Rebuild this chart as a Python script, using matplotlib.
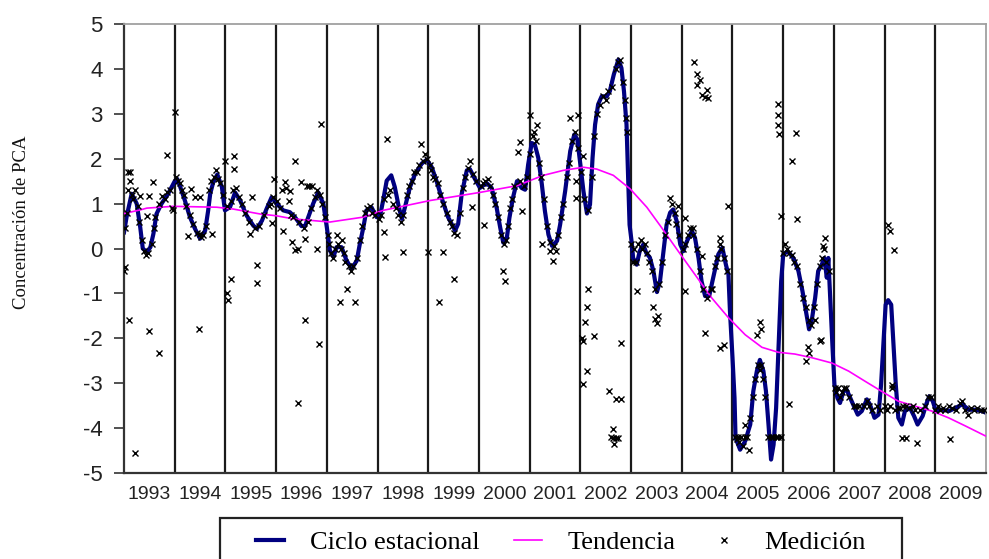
import numpy as np
import matplotlib
matplotlib.use('Agg')
from matplotlib import pyplot as plt
from matplotlib.lines import Line2D
from matplotlib.patches import Rectangle

# Ciclo estacional (años decimales, valor)
ciclo_anio = [1993.00, 1993.05, 1993.15, 1993.25, 1993.32, 1993.37, 1993.45, 1993.52, 1993.58, 1993.64,
              1993.74, 1993.87, 1994.00, 1994.05, 1994.10, 1994.20, 1994.30, 1994.40, 1994.50, 1994.60,
              1994.66, 1994.70, 1994.76, 1994.84, 1994.93, 1994.99, 1995.09, 1995.19, 1995.29, 1995.42,
              1995.55, 1995.62, 1995.72, 1995.81, 1995.91, 1996.01, 1996.14, 1996.27, 1996.37, 1996.50,
              1996.57, 1996.73, 1996.83, 1996.93, 1997.00, 1997.06, 1997.13, 1997.19, 1997.29, 1997.39,
              1997.49, 1997.59, 1997.65, 1997.72, 1997.78, 1997.88, 1997.98, 1998.05, 1998.11, 1998.18,
              1998.27, 1998.34, 1998.42, 1998.48, 1998.54, 1998.64, 1998.74, 1998.87, 1998.97, 1999.07,
              1999.17, 1999.26, 1999.39, 1999.53, 1999.59, 1999.66, 1999.76, 1999.82, 1999.92, 2000.02,
              2000.15, 2000.25, 2000.35, 2000.42, 2000.48, 2000.55, 2000.60, 2000.67, 2000.75, 2000.84,
              2000.91, 2000.97, 2001.04, 2001.10, 2001.17, 2001.24, 2001.30, 2001.37, 2001.44, 2001.54,
              2001.60, 2001.70, 2001.80, 2001.88, 2001.94, 2002.00, 2002.06, 2002.13, 2002.19, 2002.24,
              2002.29, 2002.35, 2002.42, 2002.52, 2002.58, 2002.66, 2002.75, 2002.81, 2002.86, 2002.91,
              2002.94, 2002.97, 2003.01, 2003.04, 2003.11, 2003.17, 2003.24, 2003.30, 2003.37, 2003.44,
              2003.51, 2003.57, 2003.64, 2003.70, 2003.77, 2003.83, 2003.90, 2003.97, 2004.03, 2004.10,
              2004.20, 2004.26, 2004.33, 2004.39, 2004.46, 2004.54, 2004.62, 2004.72, 2004.80, 2004.87,
              2004.92, 2004.95, 2005.00, 2005.04, 2005.06, 2005.15, 2005.25, 2005.35, 2005.41, 2005.48,
              2005.54, 2005.61, 2005.66, 2005.71, 2005.76, 2005.81, 2005.86, 2005.90, 2005.93, 2005.96,
              2006.00, 2006.09, 2006.20, 2006.30, 2006.38, 2006.46, 2006.51, 2006.56, 2006.63, 2006.69,
              2006.76, 2006.81, 2006.86, 2006.89, 2006.92, 2006.97, 2007.01, 2007.07, 2007.12, 2007.19,
              2007.25, 2007.35, 2007.47, 2007.55, 2007.65, 2007.71, 2007.80, 2007.88, 2007.93, 2007.98,
              2008.02, 2008.07, 2008.13, 2008.17, 2008.22, 2008.27, 2008.34, 2008.40, 2008.50, 2008.58,
              2008.65, 2008.75, 2008.82, 2008.88, 2008.95, 2009.01, 2009.14, 2009.27, 2009.40, 2009.53,
              2009.66, 2009.79, 2009.92, 2010.00]
ciclo_valor = [0.36, 0.70, 1.22, 1.00, 0.47, 0.00, -0.08, 0.03, 0.33, 0.77,
               1.00, 1.22, 1.50, 1.55, 1.40, 1.07, 0.70, 0.44, 0.22, 0.40,
               0.85, 1.22, 1.48, 1.65, 1.37, 0.85, 0.92, 1.25, 1.07, 0.73,
               0.51, 0.44, 0.62, 0.88, 1.14, 1.00, 0.85, 0.81, 0.70, 0.50,
               0.50, 1.00, 1.25, 1.00, 0.47, -0.04, -0.19, 0.03, 0.03, -0.27,
               -0.45, -0.27, 0.10, 0.47, 0.85, 0.92, 0.70, 0.73, 1.07, 1.51,
               1.63, 1.37, 0.92, 0.66, 0.92, 1.37, 1.66, 1.89, 1.98, 1.81,
               1.48, 1.14, 0.70, 0.40, 0.55, 1.22, 1.74, 1.77, 1.55, 1.35,
               1.46, 1.35, 0.90, 0.46, 0.13, 0.24, 0.68, 1.13, 1.50, 1.35,
               1.31, 1.87, 2.35, 2.32, 2.02, 1.43, 0.84, 0.31, 0.06, 0.17,
               0.53, 1.28, 2.17, 2.54, 2.43, 1.87, 1.28, 0.78, 0.98, 2.02,
               2.76, 3.21, 3.39, 3.39, 3.50, 3.88, 4.21, 4.02, 3.50, 2.76,
               1.65, 0.53, 0.16, -0.21, -0.36, -0.06, 0.09, -0.10, -0.20, -0.50,
               -0.97, -0.73, -0.06, 0.53, 0.80, 0.87, 0.61, 0.09, -0.06, 0.16,
               0.39, 0.24, -0.21, -0.73, -1.06, -1.06, -0.65, -0.13, 0.02, -0.36,
               -0.58, -1.40, -2.43, -3.33, -4.22, -4.48, -4.29, -3.92, -3.18, -2.73,
               -2.48, -2.73, -3.18, -3.92, -4.70, -4.37, -3.55, -2.43, -1.54, -0.73,
               -0.13, -0.06, -0.21, -0.50, -0.95, -1.47, -1.80, -1.62, -1.10, -0.50,
               -0.36, -0.21, -0.65, -0.21, -0.95, -2.14, -3.03, -3.33, -3.44, -3.18,
               -3.14, -3.40, -3.70, -3.62, -3.36, -3.47, -3.77, -3.70, -3.03, -2.06,
               -1.25, -1.15, -1.25, -2.06, -3.03, -3.77, -3.92, -3.62, -3.55, -3.73,
               -3.92, -3.73, -3.47, -3.29, -3.40, -3.62, -3.59, -3.62, -3.55, -3.47,
               -3.59, -3.59, -3.62, -3.66]

# Tendencia
tend_anio = [1993.00, 1993.32, 1993.45, 1993.97, 1994.83, 1995.15, 1995.68, 1996.00, 1996.34, 1997.06,
             1997.72, 1998.11, 1999.04, 2000.02, 2000.75, 2001.27, 2001.66, 2002.06, 2002.32, 2002.65,
             2002.98, 2003.31, 2003.58, 2003.93, 2004.26, 2004.59, 2004.92, 2005.25, 2005.58, 2005.90,
             2006.23, 2006.56, 2006.96, 2007.29, 2007.62, 2007.94, 2008.27, 2008.60, 2008.93, 2009.26,
             2009.59, 2010.00]
tend_valor = [0.78, 0.86, 0.90, 0.94, 0.92, 0.88, 0.77, 0.73, 0.66, 0.59,
              0.70, 0.85, 1.07, 1.25, 1.40, 1.63, 1.74, 1.81, 1.77, 1.63,
              1.33, 0.92, 0.50, -0.06, -0.58, -1.10, -1.54, -1.92, -2.20, -2.31,
              -2.35, -2.43, -2.55, -2.73, -2.96, -3.18, -3.40, -3.51, -3.62, -3.77,
              -3.95, -4.18]

# Medición (puntos)
med_anio = [
    1993.02, 1993.05, 1993.08, 1993.12, 1993.15, 1993.18, 1993.22, 1993.28, 1993.30, 1993.35, 1993.40, 1993.44,
    1993.48, 1993.55, 1993.60, 1993.62, 1993.68, 1993.80, 1993.85, 1993.90, 1993.95, 1993.97,
    1993.00, 1993.02, 1993.07, 1993.12, 1993.09, 1993.22, 1993.49, 1993.69, 1993.84, 1993.58, 1993.32, 1993.50,
    1993.74, 1993.45,
    1994.02, 1994.06, 1994.10, 1994.14, 1994.18, 1994.22, 1994.30, 1994.36, 1994.44, 1994.52, 1994.56, 1994.62,
    1994.68, 1994.72, 1994.78, 1994.82, 1994.86, 1994.90, 1994.95,
    1994.00, 1994.27, 1994.50, 1994.73, 1994.40, 1994.50, 1994.33, 1994.48,
    1995.04, 1995.10, 1995.15, 1995.20, 1995.26, 1995.32, 1995.38, 1995.46, 1995.58, 1995.66, 1995.76, 1995.85,
    1995.90, 1995.94,
    1995.00, 1995.03, 1995.05, 1995.11, 1995.16, 1995.16, 1995.62, 1995.62, 1995.52, 1995.49, 1995.91, 1995.96,
    1996.02, 1996.08, 1996.12, 1996.20, 1996.25, 1996.30, 1996.34, 1996.45, 1996.55, 1996.62, 1996.68, 1996.76,
    1996.80, 1996.86, 1996.90, 1996.96,
    1996.14, 1996.18, 1996.27, 1996.31, 1996.37, 1996.38, 1996.43, 1996.57, 1996.85, 1996.88, 1996.50, 1996.44,
    1996.57, 1996.80, 1996.60, 1996.65, 1996.70,
    1997.02, 1997.05, 1997.08, 1997.12, 1997.16, 1997.22, 1997.28, 1997.33, 1997.36, 1997.44, 1997.48, 1997.52,
    1997.60, 1997.66, 1997.70, 1997.75, 1997.80, 1997.85, 1997.90, 1997.95,
    1997.40, 1997.25, 1997.55, 1997.20, 1997.30,
    1998.02, 1998.06, 1998.12, 1998.20, 1998.24, 1998.30, 1998.36, 1998.40, 1998.46, 1998.50, 1998.58, 1998.62,
    1998.68, 1998.72, 1998.78, 1998.82, 1998.90, 1998.94, 1998.98,
    1998.15, 1998.51, 1998.18, 1998.86, 1998.13,
    1999.03, 1999.06, 1999.10, 1999.14, 1999.20, 1999.24, 1999.30, 1999.36, 1999.42, 1999.46, 1999.50, 1999.56,
    1999.62, 1999.68, 1999.72, 1999.78, 1999.88, 1999.94,
    1999.30, 1999.00, 1999.22, 1999.50, 1999.82, 1999.86,
    2000.04, 2000.08, 2000.12, 2000.18, 2000.22, 2000.28, 2000.32, 2000.38, 2000.44, 2000.50, 2000.53, 2000.58,
    2000.62, 2000.66, 2000.70, 2000.80, 2000.88, 2000.94,
    2000.09, 2000.48, 2000.51, 2000.80, 2000.76, 2000.84,
    2001.00, 2001.06, 2001.08, 2001.12, 2001.18, 2001.22, 2001.28, 2001.34, 2001.40, 2001.48, 2001.56, 2001.62,
    2001.66, 2001.74, 2001.78, 2001.84, 2001.90, 2001.96,
    2001.01, 2001.15, 2001.24, 2001.40, 2001.52, 2001.46, 2001.80, 2001.96, 2001.91, 2001.92,
    2002.02, 2002.08, 2002.15, 2002.22, 2002.27, 2002.32, 2002.38, 2002.45, 2002.50, 2002.55, 2002.62, 2002.70,
    2002.74, 2002.78, 2002.84, 2002.88, 2002.90, 2002.92,
    2002.06, 2002.15, 2002.13, 2002.09, 2002.03, 2002.05, 2002.26, 2002.13, 2002.05, 2002.81, 2002.57, 2002.71,
    2002.81, 2002.65, 2002.60, 2002.65, 2002.70, 2002.75, 2002.66,
    2003.00, 2003.03, 2003.06, 2003.10, 2003.14, 2003.20, 2003.22, 2003.27, 2003.32, 2003.36, 2003.42, 2003.48,
    2003.55, 2003.60, 2003.66, 2003.72, 2003.80, 2003.86, 2003.88, 2003.94,
    2003.11, 2003.47, 2003.51, 2003.53, 2003.43, 2003.77, 2003.93,
    2004.02, 2004.06, 2004.12, 2004.16, 2004.22, 2004.30, 2004.36, 2004.42, 2004.50, 2004.58, 2004.65, 2004.70,
    2004.76, 2004.78, 2004.84, 2004.90,
    2004.07, 2004.07, 2004.23, 2004.39, 2004.25, 2004.30, 2004.36, 2004.30, 2004.39, 2004.49, 2004.52, 2004.45,
    2004.46, 2004.75, 2004.83, 2004.92, 2004.75, 2004.59,
    2005.05, 2005.08, 2005.10, 2005.13, 2005.17, 2005.20, 2005.24, 2005.28, 2005.32, 2005.35, 2005.40, 2005.45,
    2005.50, 2005.56, 2005.60, 2005.64, 2005.70, 2005.75, 2005.80, 2005.85, 2005.90, 2005.95,
    2005.54, 2005.48, 2005.56, 2005.54, 2005.25, 2005.89, 2005.89, 2005.90, 2005.91, 2005.96,
    2006.00, 2006.04, 2006.08, 2006.12, 2006.18, 2006.22, 2006.28, 2006.34, 2006.40, 2006.44, 2006.50, 2006.54,
    2006.60, 2006.66, 2006.72, 2006.76, 2006.80, 2006.84, 2006.90,
    2006.25, 2006.17, 2006.28, 2006.12, 2006.44, 2006.50, 2006.49, 2006.75, 2006.82, 2006.79, 2006.73, 2006.63,
    2007.02, 2007.05, 2007.08, 2007.12, 2007.16, 2007.20, 2007.24, 2007.30, 2007.40, 2007.44, 2007.50, 2007.60,
    2007.66, 2007.70, 2007.76, 2007.84, 2007.90,
    2008.00, 2008.04, 2008.10, 2008.15, 2008.20, 2008.26, 2008.30, 2008.36, 2008.42, 2008.48, 2008.55, 2008.60,
    2008.70, 2008.80, 2008.86, 2008.92,
    2008.07, 2008.10, 2008.19, 2008.15, 2008.34, 2008.42, 2008.63,
    2009.00, 2009.05, 2009.10, 2009.15, 2009.20, 2009.26, 2009.32, 2009.40, 2009.48, 2009.52, 2009.58, 2009.64,
    2009.70, 2009.76, 2009.82, 2009.90, 2009.96,
    2009.29]
med_valor = [
    0.45, 0.80, 1.30, 1.50, 1.20, 1.10, 1.30, 0.95, 0.60, 0.20, -0.05, -0.15,
    -0.10, 0.10, 0.45, 0.70, 1.00, 1.10, 1.25, 1.30, 0.90, 0.85,
    -0.50, -0.42, 1.70, 1.70, -1.60, -4.55, -1.83, -2.32, 2.09, 1.48, 1.18, 1.18,
    1.18, 0.73,
    1.60, 1.50, 1.45, 1.30, 1.20, 0.95, 0.75, 0.55, 0.35, 0.25, 0.30, 0.50,
    1.30, 1.50, 1.60, 1.75, 1.55, 1.45, 1.20,
    3.04, 0.29, 0.33, 0.33, 1.14, 1.14, 1.33, -1.79,
    0.95, 1.05, 1.30, 1.35, 1.15, 1.00, 0.80, 0.60, 0.45, 0.50, 0.75, 0.95,
    1.00, 1.15,
    1.96, -1.00, -1.15, -0.67, 2.06, 1.77, -0.36, -0.77, 1.14, 0.33, 0.56, 1.55,
    1.05, 0.90, 1.30, 1.35, 1.05, 0.75, 0.70, 0.60, 0.45, 0.60, 0.90, 1.15,
    1.30, 1.20, 1.00, 0.70,
    0.40, 1.48, 1.29, 0.14, -0.04, 1.96, -3.43, -1.60, -2.12, 2.77, 1.48, 0.00,
    0.22, 0.00, 1.40, 1.40, 1.40,
    0.30, 0.10, -0.10, -0.20, 0.00, 0.10, 0.00, -0.10, -0.30, -0.40, -0.50, -0.40,
    -0.20, 0.20, 0.50, 0.80, 0.90, 0.95, 0.80, 0.75,
    -0.90, -1.19, -1.19, 0.30, 0.20,
    0.65, 0.75, 1.10, 1.20, 1.30, 1.00, 0.90, 0.75, 0.60, 0.75, 1.20, 1.40,
    1.50, 1.70, 1.70, 1.85, 1.95, 2.10, 2.00,
    -0.19, -0.08, 2.44, 2.33, 0.36,
    1.85, 1.75, 1.60, 1.55, 1.45, 1.20, 1.00, 0.80, 0.60, 0.50, 0.35, 0.30,
    0.80, 1.35, 1.60, 1.80, 1.65, 1.50,
    -0.08, -0.08, -1.19, -0.67, 1.96, 0.93,
    1.40, 1.45, 1.50, 1.55, 1.40, 1.20, 1.00, 0.70, 0.30, 0.10, 0.20, 0.50,
    0.90, 1.10, 1.40, 1.50, 1.40, 1.60,
    0.53, -0.49, -0.73, 2.38, 2.14, 0.83,
    2.10, 2.50, 2.60, 2.40, 1.90, 1.60, 1.10, 0.50, 0.15, 0.05, 0.30, 0.70,
    1.00, 1.60, 1.90, 2.40, 2.60, 2.25,
    2.98, 2.76, 0.09, -0.06, -0.06, -0.28, 2.91, 2.98, 1.51, 1.13,
    1.70, 1.10, 0.85, 1.60, 2.50, 3.00, 3.20, 3.40, 3.30, 3.50, 3.60, 4.00,
    4.15, 4.20, 3.70, 3.30, 2.90, 2.60,
    2.06, -0.90, -1.31, -1.64, -1.99, -2.05, -1.95, -2.73, -3.01, -2.10, -3.18, -3.36,
    -3.36, -4.03, -4.20, -4.22, -4.22, -4.22, -4.35,
    0.10, -0.30, 0.00, -0.30, 0.10, 0.20, 0.00, 0.10, -0.10, -0.30, -0.50, -0.90,
    -0.80, -0.30, 0.30, 0.60, 1.00, 0.80, 0.55, 0.30,
    -0.95, -1.58, -1.66, -1.50, -1.30, 1.13, 0.94,
    0.00, 0.10, 0.30, 0.45, 0.30, 0.00, -0.50, -0.90, -1.10, -0.90, -0.40, -0.20,
    0.10, 0.00, -0.20, -0.50,
    0.68, -0.95, 0.46, -0.17, 4.16, 3.88, 3.76, 3.65, 3.43, 3.54, 3.36, 3.38,
    -1.88, -2.21, -2.14, 0.94, 0.24, -0.91,
    -4.20, -4.25, -4.20, -4.30, -4.20, -4.40, -4.20, -4.20, -4.48, -3.77, -3.30, -2.90,
    -2.60, -2.60, -2.90, -3.30, -4.20, -4.20, -4.20, -4.20, -4.20, -4.20,
    -1.64, -1.92, -1.80, -2.70, -3.92, 3.21, 2.98, 2.76, 2.54, 0.72,
    -0.10, 0.10, 0.00, -0.10, -0.15, -0.30, -0.40, -0.80, -1.10, -1.30, -1.60, -1.70,
    -1.30, -0.80, -0.40, -0.20, 0.00, -0.30, -0.50,
    2.58, 1.96, 0.65, -3.47, -2.51, -2.33, -2.20, -2.03, 0.24, 0.05, -2.06, -1.60,
    -3.10, -3.20, -3.10, -3.30, -3.20, -3.10, -3.10, -3.30, -3.50, -3.50, -3.50, -3.50,
    -3.40, -3.50, -3.60, -3.50, -3.60,
    -3.50, -3.60, -3.50, -3.10, -3.60, -3.55, -3.55, -3.50, -3.50, -3.55, -3.50, -3.60,
    -3.60, -3.50, -3.30, -3.30,
    0.53, 0.38, -0.04, -3.03, -4.22, -4.22, -4.33,
    -3.60, -3.50, -3.60, -3.55, -3.60, -3.50, -3.55, -3.60, -3.45, -3.40, -3.60, -3.70,
    -3.55, -3.60, -3.55, -3.60, -3.60,
    -4.25]

anios = list(range(1993, 2010))
y_ticks = [-5, -4, -3, -2, -1, 0, 1, 2, 3, 4, 5]

fig = plt.figure(figsize=(9.89, 5.59), dpi=100)
ax = fig.add_axes([0.1254, 0.1538, 0.8716, 0.8032])

# lineas verticales entre años
for a in anios[1:]:
    ax.axvline(a, color='#1a1a1a', linewidth=1.6, zorder=1)

ax.plot(ciclo_anio, ciclo_valor, color='#000080', linewidth=3.0, zorder=2, solid_joinstyle='round')
ax.plot(tend_anio, tend_valor, color='#ff00ff', linewidth=1.2, zorder=3)
ax.plot(med_anio, med_valor, linestyle='none', marker='x', markersize=4.0, markeredgewidth=1.0,
        color='black', zorder=4)

ax.set_xlim(1993, 2010)
ax.set_ylim(-5, 5)
ax.set_yticks(y_ticks)
ax.set_yticklabels([str(v) for v in y_ticks], fontsize=16, family='Liberation Sans', color='#222222')
ax.set_xticks([a + 0.5 for a in anios])
ax.set_xticklabels([str(a) for a in anios], fontsize=14, family='Liberation Sans', color='#222222')
ax.tick_params(axis='x', length=0, pad=9)
ax.tick_params(axis='y', length=7.5, width=1.2, color='#333333', pad=8, direction='out')

for s in ['left', 'bottom']:
    ax.spines[s].set_color('#333333')
    ax.spines[s].set_linewidth(1.6)
for s in ['top', 'right']:
    ax.spines[s].set_color('#a0a0a0')
    ax.spines[s].set_linewidth(1.3)

fig.text(0.022, 0.603, 'Concentración de PCA', rotation=90, ha='center', va='center',
         fontsize=13.5, family='Liberation Serif', color='#111111')

# leyenda: marco aparte, cortado por el borde inferior
fig.add_artist(Rectangle((220 / 989, -0.05), 682 / 989, 0.0733 + 0.05, transform=fig.transFigure,
                         fill=False, edgecolor='#222222', linewidth=1.6))
handles = [Line2D([], [], color='#000080', linewidth=3.0),
           Line2D([], [], color='#ff00ff', linewidth=1.2),
           Line2D([], [], linestyle='none', marker='x', markersize=4.0, markeredgewidth=1.0, color='black')]
leg = fig.legend(handles, ['Ciclo estacional', 'Tendencia', 'Medición'], ncol=3,
                 loc='center left', bbox_to_anchor=(256 / 989, 1 - 542 / 559),
                 prop={'family': 'Liberation Serif', 'size': 19}, frameon=False,
                 borderpad=0, borderaxespad=0, handlelength=1.06, handletextpad=0.98, columnspacing=1.3)

fig.savefig('out.png', dpi=100)
